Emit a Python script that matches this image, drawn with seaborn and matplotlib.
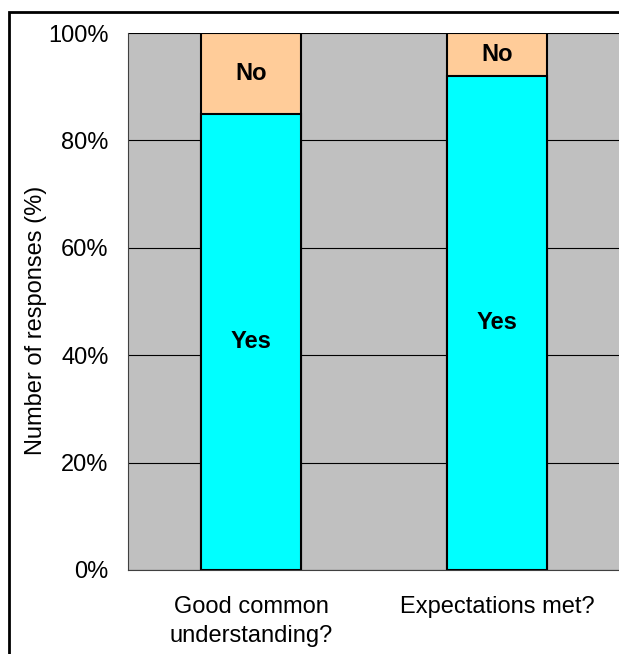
import matplotlib
matplotlib.use("Agg")
import matplotlib.pyplot as plt
import seaborn as sns
import pandas as pd
from matplotlib.patches import Rectangle

# 数据
categories = ["Good common\nunderstanding?", "Expectations met?"]
yes_pct = [85, 92]
no_pct = [15, 8]
yticks = [0, 20, 40, 60, 80, 100]

df = pd.DataFrame({"cat": categories, "yes": yes_pct, "no": no_pct})
df["total"] = df["yes"] + df["no"]

sns.set_style("white")
plt.rcParams["font.family"] = ["Liberation Sans", "DejaVu Sans"]
plt.rcParams["text.color"] = "black"
plt.rcParams["axes.labelcolor"] = "black"
plt.rcParams["xtick.color"] = "black"
plt.rcParams["ytick.color"] = "black"

fig = plt.figure(figsize=(6.19, 6.54), dpi=100)
ax = fig.add_axes([128 / 619, 1 - 570 / 654, 492 / 619, 537 / 654])
ax.set_facecolor("#C0C0C0")

# 堆叠柱：先画总高度(No)，再画Yes
sns.barplot(data=df, x="cat", y="total", color="#FFCC99", edgecolor="black",
            linewidth=1.5, width=0.41, saturation=1, ax=ax, zorder=3)
sns.barplot(data=df, x="cat", y="yes", color="#00FFFF", edgecolor="black",
            linewidth=1.5, width=0.41, saturation=1, ax=ax, zorder=4)

for i, row in df.iterrows():
    ax.text(i, row["yes"] / 2, "Yes", ha="center", va="center",
            fontsize=17, fontweight="bold", zorder=5)
    ax.text(i, row["yes"] + row["no"] / 2, "No", ha="center", va="center",
            fontsize=17, fontweight="bold", zorder=5)

ax.set_xlim(-0.5, 1.5)
ax.set_ylim(0, 100)
ax.set_yticks(yticks)
ax.set_yticklabels([f"{v}%" for v in yticks], fontsize=17)
ax.yaxis.grid(True, color="black", linewidth=0.8, zorder=1)
ax.set_axisbelow(True)

ax.set_xticks([0, 1])
ax.set_xticklabels(categories, fontsize=17, linespacing=1.4)
ax.set_xticks([-0.5, 0.5, 1.5], minor=True)
ax.tick_params(axis="x", which="major", length=0, pad=19)
ax.tick_params(axis="x", which="minor", length=6, color="#404040", direction="out")
ax.tick_params(axis="y", length=5, color="#404040", direction="out", pad=9)

ax.set_xlabel("")
ax.set_ylabel("Number of responses (%)", fontsize=17, va="center")
ax.yaxis.set_label_coords((36 - 128) / 492, (570 - 320) / 537)

for s in ["top", "right"]:
    ax.spines[s].set_visible(False)
ax.spines["left"].set_color("#404040")
ax.spines["bottom"].set_color("#404040")

# 外边框
fig.patches.append(Rectangle((9 / 619, -0.05), 1.1, 1 - 12 / 654 + 0.05,
                             transform=fig.transFigure, fill=False,
                             edgecolor="black", linewidth=2))

fig.savefig("out.png", dpi=100)
